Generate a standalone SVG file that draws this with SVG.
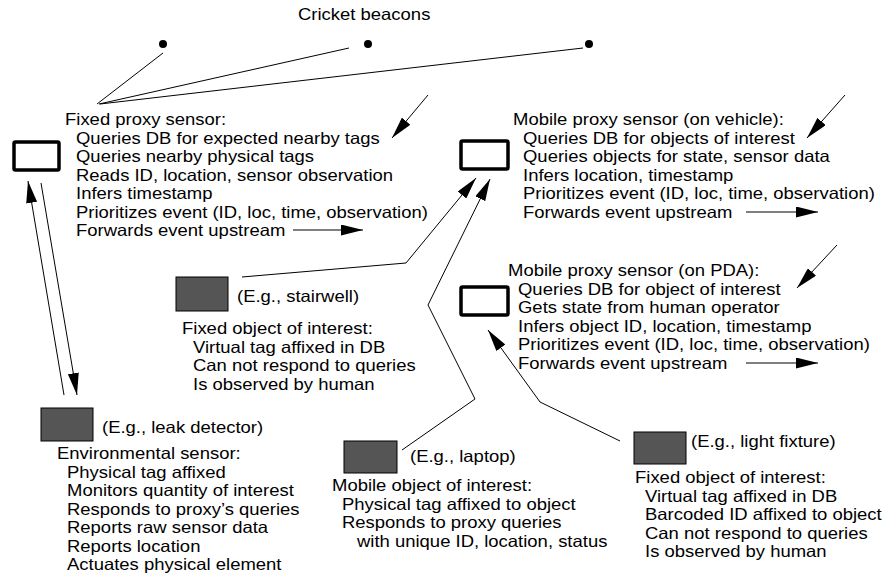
<svg xmlns="http://www.w3.org/2000/svg" width="886" height="582" viewBox="0 0 886 582">
<style>
text{font-family:"Liberation Sans",Arial,sans-serif;font-size:16.5px;fill:#000}
.proxy{fill:#fff;stroke:#000;stroke-width:3.5}
.obj{fill:#555;stroke:#000;stroke-width:1}
.ln{fill:none;stroke:#000;stroke-width:1}
.ar{fill:none;stroke:#000;stroke-width:1;marker-end:url(#ah)}
</style>
<defs>
<marker id="ah" viewBox="0 0 22 11" refX="22" refY="5.5" markerWidth="22" markerHeight="11" markerUnits="userSpaceOnUse" orient="auto">
<path d="M0,0 L22,5.5 L0,11 z" fill="#000"/>
</marker>
</defs>
<rect width="886" height="582" fill="#fff"/>
<g id="beacons">
<text transform="translate(298,20) scale(1.12,1)">Cricket beacons</text>
<circle cx="163" cy="44" r="4" fill="#000"/>
<circle cx="368" cy="44" r="4" fill="#000"/>
<circle cx="589" cy="44" r="4" fill="#000"/>
</g>
<g id="fixed-proxy">
<rect class="proxy" x="14" y="142" width="45" height="28" rx="1.5"/>
<text transform="translate(65,125) scale(1.12,1)">Fixed proxy sensor:</text>
<text transform="translate(76,143.5) scale(1.12,1)">Queries DB for expected nearby tags</text>
<text transform="translate(76,162) scale(1.12,1)">Queries nearby physical tags</text>
<text transform="translate(76,180.5) scale(1.12,1)">Reads ID, location, sensor observation</text>
<text transform="translate(76,199) scale(1.12,1)">Infers timestamp</text>
<text transform="translate(76,217.5) scale(1.12,1)">Prioritizes event (ID, loc, time, observation)</text>
<text transform="translate(76,236) scale(1.12,1)">Forwards event upstream</text>
</g>
<g id="vehicle-proxy">
<rect class="proxy" x="461" y="141" width="47" height="28" rx="1.5"/>
<text transform="translate(513,125) scale(1.12,1)">Mobile proxy sensor (on vehicle):</text>
<text transform="translate(523,143.5) scale(1.12,1)">Queries DB for objects of interest</text>
<text transform="translate(523,162) scale(1.12,1)">Queries objects for state, sensor data</text>
<text transform="translate(523,180.5) scale(1.12,1)">Infers location, timestamp</text>
<text transform="translate(523,199) scale(1.12,1)">Prioritizes event (ID, loc, time, observation)</text>
<text transform="translate(523,217.5) scale(1.12,1)">Forwards event upstream</text>
</g>
<g id="pda-proxy">
<rect class="proxy" x="461" y="287" width="47" height="28" rx="1.5"/>
<text transform="translate(508,276) scale(1.12,1)">Mobile proxy sensor (on PDA):</text>
<text transform="translate(518,294.5) scale(1.12,1)">Queries DB for object of interest</text>
<text transform="translate(518,313) scale(1.12,1)">Gets state from human operator</text>
<text transform="translate(518,331.5) scale(1.12,1)">Infers object ID, location, timestamp</text>
<text transform="translate(518,350) scale(1.12,1)">Prioritizes event (ID, loc, time, observation)</text>
<text transform="translate(518,368.5) scale(1.12,1)">Forwards event upstream</text>
</g>
<g id="stairwell">
<rect class="obj" x="176" y="277" width="52" height="34"/>
<text transform="translate(237,302) scale(1.12,1)">(E.g., stairwell)</text>
<text transform="translate(182,334) scale(1.12,1)">Fixed object of interest:</text>
<text transform="translate(193,352.5) scale(1.12,1)">Virtual tag affixed in DB</text>
<text transform="translate(193,371) scale(1.12,1)">Can not respond to queries</text>
<text transform="translate(193,389.5) scale(1.12,1)">Is observed by human</text>
</g>
<g id="leak-detector">
<rect class="obj" x="41" y="408" width="52" height="33"/>
<text transform="translate(102,433) scale(1.12,1)">(E.g., leak detector)</text>
<text transform="translate(57,459) scale(1.12,1)">Environmental sensor:</text>
<text transform="translate(67,477.5) scale(1.12,1)">Physical tag affixed</text>
<text transform="translate(67,496) scale(1.12,1)">Monitors quantity of interest</text>
<text transform="translate(67,514.5) scale(1.12,1)">Responds to proxy’s queries</text>
<text transform="translate(67,533) scale(1.12,1)">Reports raw sensor data</text>
<text transform="translate(67,551.5) scale(1.12,1)">Reports location</text>
<text transform="translate(67,570) scale(1.12,1)">Actuates physical element</text>
</g>
<g id="laptop">
<rect class="obj" x="344" y="441" width="53" height="32"/>
<text transform="translate(410,462) scale(1.12,1)">(E.g., laptop)</text>
<text transform="translate(332,491) scale(1.12,1)">Mobile object of interest:</text>
<text transform="translate(342,509.5) scale(1.12,1)">Physical tag affixed to object</text>
<text transform="translate(342,528) scale(1.12,1)">Responds to proxy queries</text>
<text transform="translate(357,546.5) scale(1.12,1)">with unique ID, location, status</text>
</g>
<g id="light-fixture">
<rect class="obj" x="634" y="432" width="52" height="32"/>
<text transform="translate(691,447) scale(1.12,1)">(E.g., light fixture)</text>
<text transform="translate(635,483) scale(1.12,1)">Fixed object of interest:</text>
<text transform="translate(645,501.5) scale(1.12,1)">Virtual tag affixed in DB</text>
<text transform="translate(645,520) scale(1.12,1)">Barcoded ID affixed to object</text>
<text transform="translate(645,538.5) scale(1.12,1)">Can not respond to queries</text>
<text transform="translate(645,557) scale(1.12,1)">Is observed by human</text>
</g>
<g id="connectors">
<line class="ln" x1="97" y1="104" x2="163" y2="53"/>
<line class="ln" x1="99" y1="104" x2="349" y2="48"/>
<line class="ln" x1="100" y1="104" x2="583" y2="48"/>
<line class="ar" x1="428" y1="95" x2="392" y2="138"/>
<line class="ar" x1="293" y1="230" x2="363" y2="230"/>
<line class="ar" x1="64" y1="395" x2="28" y2="181"/>
<line class="ar" x1="41" y1="183" x2="77" y2="395"/>
<polyline class="ar" points="242,277 406,263 476,178"/>
<polyline class="ar" points="402,450 475,399 428,305 490,179"/>
<polyline class="ar" points="620,441 540,402 488,330"/>
<line class="ar" x1="845" y1="95" x2="807" y2="138"/>
<line class="ar" x1="746" y1="212" x2="818" y2="212"/>
<line class="ar" x1="837" y1="245" x2="797" y2="288"/>
<line class="ar" x1="746" y1="363" x2="818" y2="363"/>
</g>
</svg>
